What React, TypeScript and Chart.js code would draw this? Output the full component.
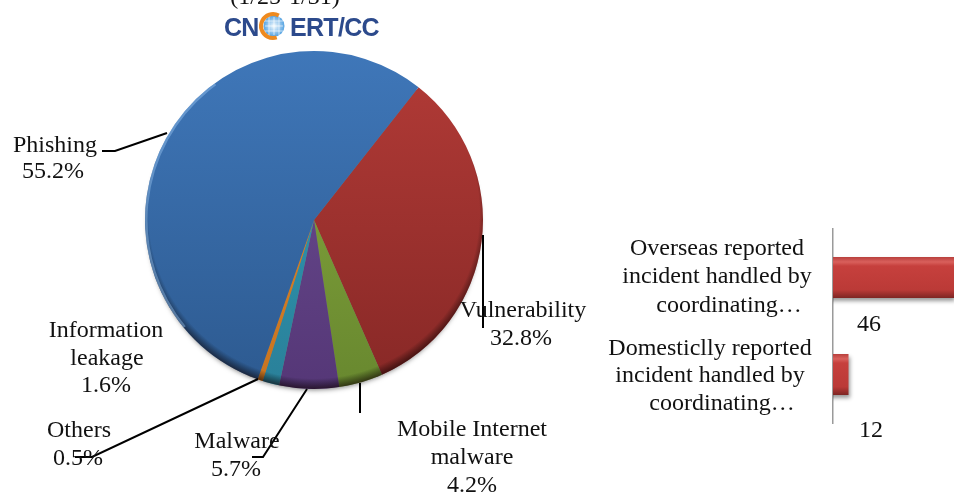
import React, { useEffect, useRef } from "react";
import { Chart, registerables } from "chart.js";

Chart.register(...registerables);

const pieNames = ["Vulnerability", "Mobile Internet malware", "Malware", "Information leakage", "Others", "Phishing"];
const pieValues = [32.8, 4.2, 5.7, 1.6, 0.5, 55.2];
const barCategories = ["Overseas reported incident handled by coordinating…", "Domesticlly reported incident handled by coordinating…"];
const barValues = [46, 12];
const titleText = "(1/25-1/31)";

const SERIF = '"Liberation Serif", serif';
const INK = "#111111";
const pieTop = ["#b33b37", "#8aab3f", "#6e4f94", "#2f9fbb", "#e08a30", "#3f77b9"];
const pieBottom = ["#872826", "#68882f", "#553777", "#2a8099", "#c8741f", "#2d5a90"];

type Piece = [string, number, number];

function drawPieces(ctx: CanvasRenderingContext2D, pieces: Piece[]) {
  ctx.save();
  ctx.font = `24px ${SERIF}`;
  ctx.fillStyle = INK;
  ctx.textAlign = "center";
  ctx.textBaseline = "alphabetic";
  for (const [t, x, y] of pieces) ctx.fillText(t, x, y);
  ctx.restore();
}

function pct(i: number) {
  return `${pieValues[i].toFixed(1)}%`;
}

const pieDecor = {
  id: "pieDecor",
  beforeDatasetsDraw(chart: any) {
    const ctx = chart.ctx as CanvasRenderingContext2D;
    const arc = chart.getDatasetMeta(0).data[0];
    if (!arc) return;
    ctx.save();
    ctx.shadowColor = "rgba(0,0,0,0.5)";
    ctx.shadowBlur = 5;
    ctx.shadowOffsetY = 4;
    ctx.fillStyle = "#777";
    ctx.beginPath();
    ctx.arc(arc.x, arc.y, arc.outerRadius - 3, 0, Math.PI * 2);
    ctx.fill();
    ctx.restore();
  },
  afterDatasetsDraw(chart: any) {
    const ctx = chart.ctx as CanvasRenderingContext2D;
    const arc = chart.getDatasetMeta(0).data[0];
    if (!arc) return;
    const { x, y, outerRadius: r } = arc;
    ctx.save();
    ctx.beginPath();
    ctx.arc(x, y, r, 0, Math.PI * 2);
    ctx.clip();
    const g = ctx.createRadialGradient(x, y - 7, 0, x, y - 7, r + 7);
    g.addColorStop(0, "rgba(0,0,0,0)");
    g.addColorStop(0.94, "rgba(0,0,0,0)");
    g.addColorStop(1, "rgba(15,0,0,0.62)");
    ctx.fillStyle = g;
    ctx.fillRect(x - r, y - r, r * 2, r * 2);
    ctx.strokeStyle = "rgba(150,195,240,0.45)";
    ctx.lineWidth = 3;
    ctx.beginPath();
    ctx.arc(x, y, r - 1, Math.PI * 0.78, Math.PI * 1.3);
    ctx.stroke();
    ctx.restore();

    // leader lines
    ctx.save();
    ctx.strokeStyle = "#000";
    ctx.lineWidth = 2;
    const leaders = [
      [[102, 151], [115, 151], [167, 133]],
      [[483, 235], [483, 328]],
      [[360, 383], [360, 413]],
      [[307, 389], [263, 457], [252, 457]],
      [[258, 379], [92, 457], [75, 457]],
    ];
    for (const l of leaders) {
      ctx.beginPath();
      l.forEach((p, i) => (i ? ctx.lineTo(p[0], p[1]) : ctx.moveTo(p[0], p[1])));
      ctx.stroke();
    }
    ctx.restore();

    drawPieces(ctx, [
      [titleText, 285, 4],
      [pieNames[5], 55, 152],
      [pct(5), 53, 178],
      [pieNames[0], 523, 317],
      [pct(0), 521, 345],
      ["Information", 106, 337],
      ["leakage", 107, 365],
      [pct(3), 106, 392],
      [pieNames[4], 79, 437],
      [pct(4), 78, 465],
      [pieNames[2], 237, 448],
      [pct(2), 236, 476],
      ["Mobile Internet", 472, 436],
      ["malware", 472, 464],
      [pct(1), 472, 492],
    ]);

    // logo
    ctx.save();
    ctx.fillStyle = "#2c4a8c";
    ctx.font = 'bold 25px "Liberation Sans", sans-serif';
    (ctx as any).letterSpacing = "-0.7px";
    ctx.textBaseline = "alphabetic";
    ctx.fillText("CN", 224, 36);
    ctx.fillText("ERT/CC", 290, 36);
    (ctx as any).letterSpacing = "0px";
    const gx = 273, gy = 26;
    const gl = ctx.createRadialGradient(gx + 1, gy, 1, gx + 1, gy, 11);
    gl.addColorStop(0, "#e4f2fc");
    gl.addColorStop(1, "#4f9fe0");
    ctx.fillStyle = gl;
    ctx.beginPath();
    ctx.arc(gx + 1, gy, 10.5, 0, Math.PI * 2);
    ctx.fill();
    ctx.strokeStyle = "rgba(255,255,255,0.8)";
    ctx.lineWidth = 0.8;
    for (const dy of [-5, 0, 5]) {
      ctx.beginPath();
      ctx.moveTo(gx - 8, gy + dy);
      ctx.lineTo(gx + 10, gy + dy);
      ctx.stroke();
    }
    for (const dx of [-4, 1, 6]) {
      ctx.beginPath();
      ctx.moveTo(gx + dx, gy - 9);
      ctx.lineTo(gx + dx, gy + 9);
      ctx.stroke();
    }
    ctx.strokeStyle = "#ee8a1f";
    ctx.lineWidth = 4;
    ctx.beginPath();
    ctx.arc(gx, gy, 12, Math.PI * 0.4, Math.PI * 1.66);
    ctx.stroke();
    ctx.restore();
  },
};

const barDecor = {
  id: "barDecor",
  beforeDatasetsDraw(chart: any) {
    const ctx = chart.ctx as CanvasRenderingContext2D;
    ctx.save();
    ctx.shadowColor = "rgba(0,0,0,0.4)";
    ctx.shadowBlur = 4;
    ctx.shadowOffsetX = 1;
    ctx.shadowOffsetY = 3;
  },
  afterDatasetsDraw(chart: any) {
    const ctx = chart.ctx as CanvasRenderingContext2D;
    ctx.restore();
    const a = barCategories[0].split(" ");
    const b = barCategories[1].split(" ");
    drawPieces(ctx, [
      [a.slice(0, 2).join(" "), 717, 255],
      [a.slice(2, 5).join(" "), 717, 283],
      [a[5], 729, 312],
      [String(barValues[0]), 869, 331],
      [b.slice(0, 2).join(" "), 710, 355],
      [b.slice(2, 5).join(" "), 710, 382],
      [b[5], 722, 410],
      [String(barValues[1]), 871, 437],
    ]);
  },
};

export default function App() {
  const pieRef = useRef<HTMLCanvasElement>(null);
  const barRef = useRef<HTMLCanvasElement>(null);

  useEffect(() => {
    document.body.style.margin = "0";
    const pie = new Chart(pieRef.current!, {
      type: "pie",
      data: {
        labels: pieNames,
        datasets: [
          {
            data: pieValues,
            borderWidth: 0,
            backgroundColor: (c: any) => {
              const area = c.chart.chartArea;
              if (!area) return pieTop[c.dataIndex];
              const g = c.chart.ctx.createLinearGradient(0, area.top, 0, area.bottom);
              g.addColorStop(0, pieTop[c.dataIndex]);
              g.addColorStop(1, pieBottom[c.dataIndex]);
              return g;
            },
          },
        ],
      },
      options: {
        responsive: false,
        animation: false,
        devicePixelRatio: 1,
        rotation: 38.2,
        layout: { padding: { left: 145, top: 51, right: 471, bottom: 105 } },
        plugins: { legend: { display: false }, tooltip: { enabled: false } },
      },
      plugins: [pieDecor],
    } as any);

    const bar = new Chart(barRef.current!, {
      type: "bar",
      data: {
        labels: barCategories,
        datasets: [
          {
            data: barValues,
            barPercentage: 41 / 97,
            categoryPercentage: 1,
            borderWidth: 0,
            backgroundColor: (c: any) => {
              const y = c.chart.scales.y;
              const mid = y && c.dataIndex !== undefined ? y.getPixelForValue(c.dataIndex) : NaN;
              if (!Number.isFinite(mid)) return "#b33b37";
              const g = c.chart.ctx.createLinearGradient(0, mid - 20.5, 0, mid + 20.5);
              g.addColorStop(0, "#b8403d");
              g.addColorStop(0.12, "#d9605c");
              g.addColorStop(0.22, "#c6403d");
              g.addColorStop(0.8, "#bb3a37");
              g.addColorStop(1, "#7d2523");
              return g;
            },
          },
        ],
      },
      options: {
        indexAxis: "y",
        responsive: false,
        animation: false,
        devicePixelRatio: 1,
        layout: { padding: { left: 832, top: 229, right: 0, bottom: 71 } },
        scales: {
          x: { display: false, min: 7, max: 46 },
          y: {
            display: true,
            afterFit: (s: any) => {
              s.width = 1;
            },
            ticks: { display: false },
            grid: { display: false, drawTicks: false },
            border: { color: "#9a9a9a", width: 1.5 },
          },
        },
        plugins: { legend: { display: false }, tooltip: { enabled: false } },
      },
      plugins: [barDecor],
    } as any);

    return () => {
      pie.destroy();
      bar.destroy();
    };
  }, []);

  const st: React.CSSProperties = { position: "absolute", left: 0, top: 0, display: "block" };
  return (
    <div style={{ position: "relative", width: 954, height: 494, overflow: "hidden", background: "#fff" }}>
      <canvas ref={pieRef} width={954} height={494} style={st} />
      <canvas ref={barRef} width={954} height={494} style={st} />
    </div>
  );
}
